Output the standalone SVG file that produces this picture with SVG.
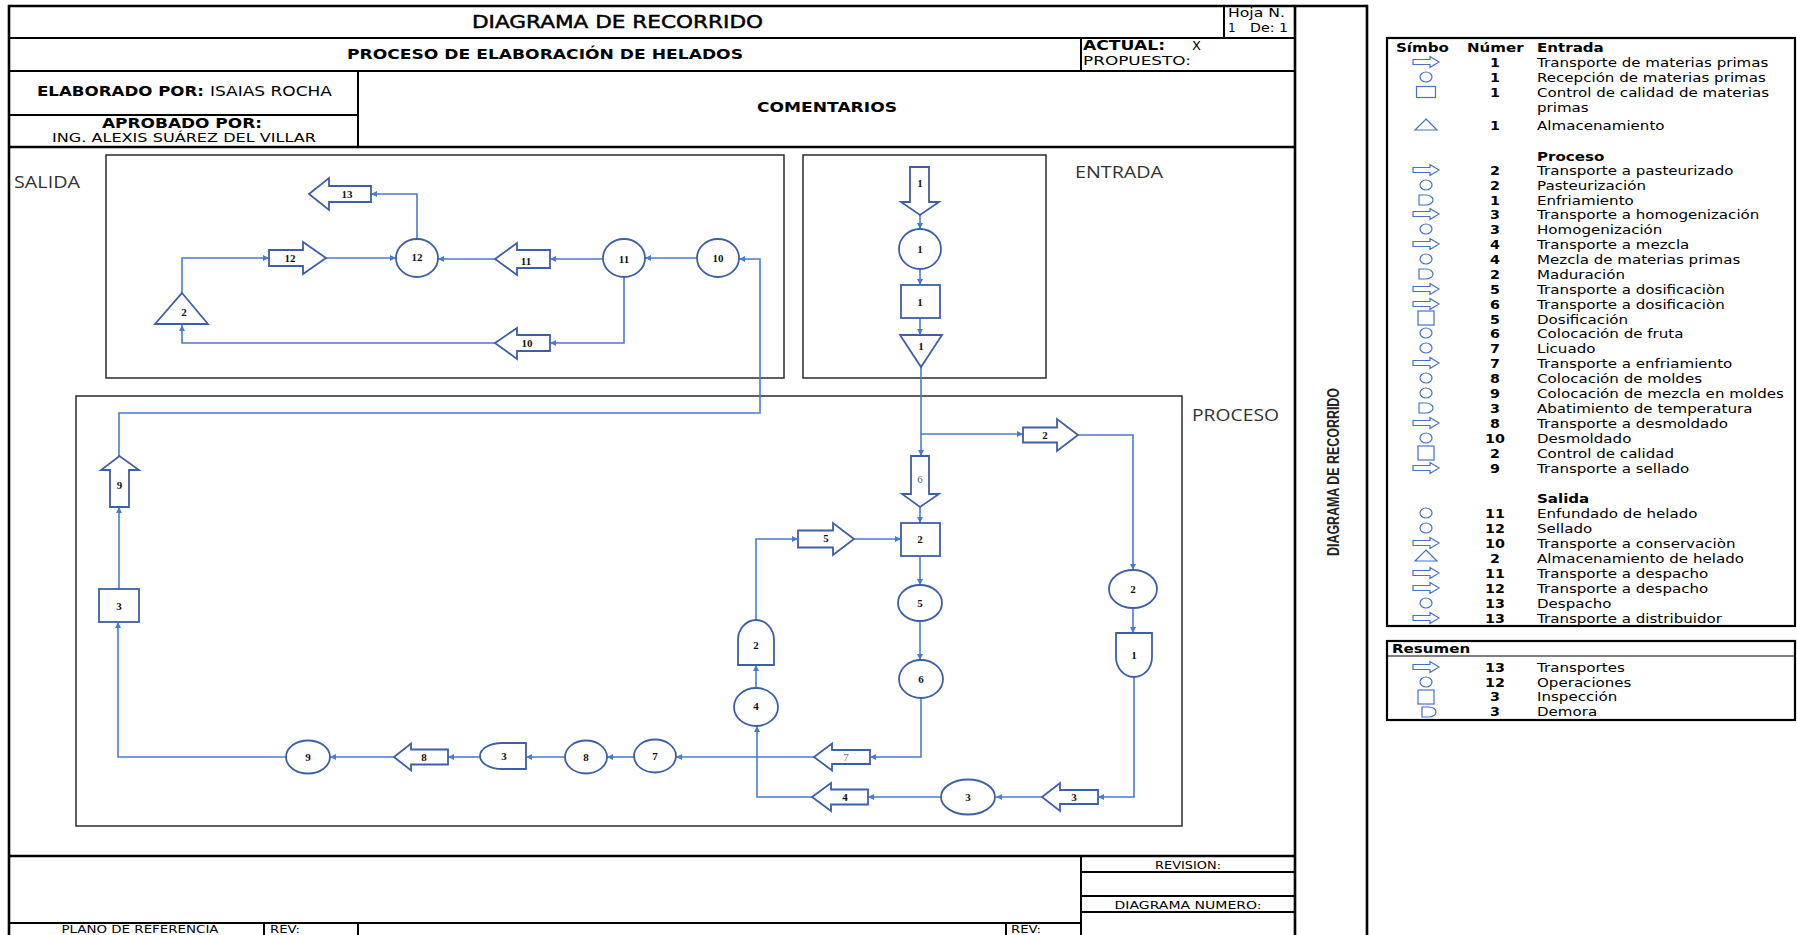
<svg xmlns="http://www.w3.org/2000/svg" xmlns:xlink="http://www.w3.org/1999/xlink" width="1797" height="935" viewBox="0 0 1797 935">
  <style>
    .frame{fill:none;stroke:#000;stroke-width:2.6}
    .cell{stroke:#000;stroke-width:2;fill:none}
    .zone{fill:none;stroke:#2b2b2b;stroke-width:1.5}
    .node{fill:#fff;stroke:#3d5fa3;stroke-width:1.8}
    .lbl{font-family:"Liberation Serif",serif;font-weight:bold;font-size:11px;fill:#111;text-anchor:middle;dominant-baseline:central}
    .lbl.l{font-weight:normal;fill:#666}
    .conn{fill:none;stroke:#4a7bd0;stroke-width:1.6;marker-end:url(#ah)}
    .form{font-family:"DejaVu Sans",sans-serif;fill:#000}
    .b{font-weight:bold}
    .zl{font-family:"Open Sans",sans-serif;font-size:17px;fill:#333}
    .leg{font-family:"DejaVu Sans",sans-serif;font-size:13px;fill:#000}
    .num{font-family:"DejaVu Sans",sans-serif;font-size:13px;font-weight:bold;fill:#000;text-anchor:middle}
    .sym{fill:none;stroke:#4472c4;stroke-width:1.2}
  </style>
  <defs>
    <marker id="ah" viewBox="0 0 10 10" refX="10" refY="5" markerWidth="6" markerHeight="6" markerUnits="userSpaceOnUse" orient="auto">
      <path d="M0,0 L10,5 L0,10 Z" fill="#4a7bd0"/>
    </marker>
    <path id="s-arrow" class="sym" d="M-13,-2.5 H4 V-5.5 L13,0 L4,5.5 V2.5 H-13 Z"/>
    <ellipse id="s-circle" class="sym" rx="6" ry="5"/>
    <rect id="s-square" class="sym" x="-9.5" y="-5.5" width="19" height="11"/>
    <rect id="s-square-t" class="sym" x="-8" y="-7" width="16" height="14"/>
    <path id="s-tri" class="sym" d="M0,-6 L11,5 H-11 Z"/>
    <path id="s-delay" class="sym" d="M-7,-5 H0 A7 5 0 0 1 0,5 H-7 Z"/>
  </defs>

  <rect width="1797" height="935" fill="#fff"/>

  <!-- form frame -->
  <g id="form-frame">
    <path class="frame" d="M9,940 V6 H1367 V940"/>
    <path class="frame" d="M1295,6 V940"/>
    <path class="cell" d="M1224,6 V38 M9,38 H1295 M1081,38 V71 M9,71 H1295 M358,71 V147 M9,115 H358"/>
    <path class="frame" d="M9,147 H1295" stroke-width="3"/>
    <path class="frame" d="M9,856 H1295"/>
    <path class="cell" d="M1081,856 V940 M1081,872 H1295 M1081,896 H1295 M1081,912 H1295 M9,923 H1081 M264,923 V940 M358,923 V940 M1006,923 V940"/>
  </g>

  <!-- header texts -->
  <g id="form-header" class="form">
    <text x="472" y="28" font-size="17" stroke="#000" stroke-width="0.45" textLength="291" lengthAdjust="spacingAndGlyphs">DIAGRAMA DE RECORRIDO</text>
    <text x="1228" y="17" font-size="12" textLength="57" lengthAdjust="spacingAndGlyphs">Hoja N.</text>
    <text x="1228" y="32" font-size="12">1</text>
    <text x="1250" y="32" font-size="12" textLength="38" lengthAdjust="spacingAndGlyphs">De: 1</text>
    <text x="347" y="59" font-size="14" class="b" textLength="396" lengthAdjust="spacingAndGlyphs">PROCESO DE ELABORACIÓN DE HELADOS</text>
    <text x="1083" y="50" font-size="14" class="b" textLength="82" lengthAdjust="spacingAndGlyphs">ACTUAL:</text>
    <text x="1192" y="50" font-size="13">X</text>
    <text x="1083" y="65" font-size="13" textLength="108" lengthAdjust="spacingAndGlyphs">PROPUESTO:</text>
    <text x="37" y="96" font-size="14" class="b" textLength="167" lengthAdjust="spacingAndGlyphs">ELABORADO POR:</text>
    <text x="210" y="96" font-size="14" textLength="122" lengthAdjust="spacingAndGlyphs">ISAIAS ROCHA</text>
    <text x="102" y="128" font-size="14" class="b" textLength="160" lengthAdjust="spacingAndGlyphs">APROBADO POR:</text>
    <text x="52" y="142" font-size="13" textLength="264" lengthAdjust="spacingAndGlyphs">ING. ALEXIS SUÁREZ DEL VILLAR</text>
    <text x="757" y="112" font-size="14" class="b" textLength="140" lengthAdjust="spacingAndGlyphs">COMENTARIOS</text>
  </g>

  <!-- footer texts -->
  <g id="form-footer" class="form" font-size="11">
    <text x="1188" y="869" text-anchor="middle" textLength="66" lengthAdjust="spacingAndGlyphs">REVISION:</text>
    <text x="1188" y="909" text-anchor="middle" textLength="147" lengthAdjust="spacingAndGlyphs">DIAGRAMA NUMERO:</text>
    <text x="140" y="933" font-size="10" text-anchor="middle" textLength="157" lengthAdjust="spacingAndGlyphs">PLANO DE REFERENCIA</text>
    <text x="270" y="933" font-size="10" textLength="30" lengthAdjust="spacingAndGlyphs">REV:</text>
    <text x="1011" y="933" font-size="10" textLength="30" lengthAdjust="spacingAndGlyphs">REV:</text>
  </g>

  <!-- side strip title -->
  <g id="strip-title">
    <text transform="translate(1339,472) rotate(-90)" text-anchor="middle" font-family="'Liberation Sans',sans-serif" font-weight="bold" font-size="17" fill="#222" textLength="168" lengthAdjust="spacingAndGlyphs">DIAGRAMA DE RECORRIDO</text>
  </g>

  <!-- zones -->
  <g id="zones">
    <rect class="zone" x="106" y="155" width="678" height="223"/>
    <rect class="zone" x="803" y="155" width="243" height="223"/>
    <rect class="zone" x="76" y="396" width="1106" height="430"/>
    <text class="zl" x="14" y="188" textLength="66" lengthAdjust="spacingAndGlyphs">SALIDA</text>
    <text class="zl" x="1075" y="178" textLength="88" lengthAdjust="spacingAndGlyphs">ENTRADA</text>
    <text class="zl" x="1192" y="421" textLength="87" lengthAdjust="spacingAndGlyphs">PROCESO</text>
  </g>

  <!-- connectors -->
  <g id="connectors">
    <path class="conn" d="M920,215 V229"/>
    <path class="conn" d="M920,269 V285"/>
    <path class="conn" d="M920,318 V335"/>
    <path class="conn" d="M921,367 V456"/>
    <path class="conn" d="M921,434 H1023"/>
    <path class="conn" d="M920,507 V523"/>
    <path class="conn" d="M920,556 V585"/>
    <path class="conn" d="M920,621 V660"/>
    <path class="conn" d="M921,698 V757 H870"/>
    <path class="conn" d="M814,757 H676"/>
    <path class="conn" d="M634,757 H607"/>
    <path class="conn" d="M565,757 H526"/>
    <path class="conn" d="M480,757 H448"/>
    <path class="conn" d="M394,757 H330"/>
    <path class="conn" d="M286,757 H118 V622"/>
    <path class="conn" d="M119,589 V507"/>
    <path class="conn" d="M119,456 V413 H760 V259 H739"/>
    <path class="conn" d="M1078,435 H1133 V570"/>
    <path class="conn" d="M1133,608 V633"/>
    <path class="conn" d="M1134,677 V797 H1098"/>
    <path class="conn" d="M1042,797 H996"/>
    <path class="conn" d="M941,797 H868"/>
    <path class="conn" d="M812,797 H757 V726"/>
    <path class="conn" d="M756,688 V665"/>
    <path class="conn" d="M756,620 V539 H798"/>
    <path class="conn" d="M854,539 H901"/>
    <path class="conn" d="M697,258 H645"/>
    <path class="conn" d="M603,259 H550"/>
    <path class="conn" d="M495,259 H438"/>
    <path class="conn" d="M624,277 V343 H550"/>
    <path class="conn" d="M495,343 H182 V325"/>
    <path class="conn" d="M182,293 V258 H269"/>
    <path class="conn" d="M326,258 H396"/>
    <path class="conn" d="M417,239 V194 H371"/>
  </g>

  <!-- entrada nodes -->
  <g id="e-transporte-1"><path class="node" d="M910,167 H929 V202 H939 L920,215 L901,202 H910 Z"/><text class="lbl" x="920" y="183">1</text></g>
  <g id="e-recepcion-1"><ellipse class="node" cx="920" cy="249" rx="21" ry="20"/><text class="lbl" x="920" y="249">1</text></g>
  <g id="e-control-1"><rect class="node" x="901" y="285" width="39" height="33"/><text class="lbl" x="920" y="302">1</text></g>
  <g id="e-almacen-1"><path class="node" d="M900,335 H942 L921,367 Z"/><text class="lbl" x="921" y="346">1</text></g>

  <!-- proceso nodes -->
  <g id="p-transporte-2"><path class="node" d="M1023,427.5 H1057 V419 L1078,435 L1057,451 V442.5 H1023 Z"/><text class="lbl" x="1045" y="435">2</text></g>
  <g id="p-pasteurizacion-2"><ellipse class="node" cx="1133" cy="589" rx="24" ry="19"/><text class="lbl" x="1133" y="589">2</text></g>
  <g id="p-enfriamiento-1"><path class="node" d="M1116,633 H1152 V657 A18 20 0 0 1 1116,657 Z"/><text class="lbl" x="1134" y="655">1</text></g>
  <g id="p-transporte-3"><path class="node" d="M1098,790 H1060 V783 L1042,797 L1060,811 V804 H1098 Z"/><text class="lbl" x="1074" y="797">3</text></g>
  <g id="p-homogenizacion-3"><ellipse class="node" cx="968" cy="797" rx="27" ry="17.5"/><text class="lbl" x="968" y="797">3</text></g>
  <g id="p-transporte-4"><path class="node" d="M868,789.5 H831 V783 L812,797 L831,811 V804.5 H868 Z"/><text class="lbl" x="845" y="797">4</text></g>
  <g id="p-mezcla-4"><ellipse class="node" cx="756" cy="707" rx="22" ry="19"/><text class="lbl" x="756" y="706">4</text></g>
  <g id="p-maduracion-2"><path class="node" d="M738,665 V640 A18 20 0 0 1 774,640 V665 Z"/><text class="lbl" x="756" y="645">2</text></g>
  <g id="p-transporte-5"><path class="node" d="M798,530.5 H833 V523 L854,539 L833,555 V547.5 H798 Z"/><text class="lbl" x="826" y="538">5</text></g>
  <g id="p-transporte-6"><path class="node" d="M911,456 H929 V494 H939 L920,507 L902,494 H911 Z"/><text class="lbl l" x="920" y="479">6</text></g>
  <g id="p-dosificacion-5"><rect class="node" x="901" y="523" width="39" height="33"/><text class="lbl" x="920" y="539">2</text></g>
  <g id="p-fruta-6"><ellipse class="node" cx="920" cy="603" rx="22" ry="18"/><text class="lbl" x="920" y="603">5</text></g>
  <g id="p-licuado-7"><ellipse class="node" cx="921" cy="679" rx="22" ry="19"/><text class="lbl" x="921" y="679">6</text></g>
  <g id="p-transporte-7"><path class="node" d="M870,750 H832 V743.5 L814,757 L832,770.5 V764 H870 Z"/><text class="lbl l" x="846" y="757">7</text></g>
  <g id="p-op-7"><ellipse class="node" cx="655" cy="756" rx="21" ry="16.5"/><text class="lbl" x="655" y="756">7</text></g>
  <g id="p-op-8"><ellipse class="node" cx="586" cy="757" rx="21" ry="16.5"/><text class="lbl" x="586" y="757">8</text></g>
  <g id="p-abatimiento-3"><path class="node" d="M526,743 H502 A22 13 0 0 0 502,769 H526 Z"/><text class="lbl" x="504" y="756">3</text></g>
  <g id="p-transporte-8"><path class="node" d="M448,749.5 H411 V743.5 L394,757 L411,770.5 V764.5 H448 Z"/><text class="lbl" x="424" y="757">8</text></g>
  <g id="p-op-9"><ellipse class="node" cx="308" cy="757" rx="22" ry="16.5"/><text class="lbl" x="308" y="757">9</text></g>
  <g id="p-control-3"><rect class="node" x="99" y="589" width="40" height="33"/><text class="lbl" x="119" y="606">3</text></g>
  <g id="p-transporte-9"><path class="node" d="M110,507 V470 H101 L119.5,456 L139,470 H129 V507 Z"/><text class="lbl" x="119.5" y="485">9</text></g>

  <!-- salida nodes -->
  <g id="s-desmoldado-10"><ellipse class="node" cx="718" cy="258" rx="21" ry="19"/><text class="lbl" x="718" y="258">10</text></g>
  <g id="s-enfundado-11"><ellipse class="node" cx="624" cy="258" rx="21" ry="19"/><text class="lbl" x="624" y="259">11</text></g>
  <g id="s-transporte-11"><path class="node" d="M550,250 H517 V243 L495,259 L517,275 V268 H550 Z"/><text class="lbl" x="526" y="261">11</text></g>
  <g id="s-sellado-12"><ellipse class="node" cx="417" cy="258" rx="21" ry="19"/><text class="lbl" x="417" y="257">12</text></g>
  <g id="s-transporte-13"><path class="node" d="M371,186 H329 V178 L309,194 L329,210 V202 H371 Z"/><text class="lbl" x="347" y="194">13</text></g>
  <g id="s-transporte-10"><path class="node" d="M550,335 H517 V328 L495,343 L517,359 V351 H550 Z"/><text class="lbl" x="527" y="343">10</text></g>
  <g id="s-almacen-2"><path class="node" d="M182,293 L208,324 L155,324 Z"/><text class="lbl" x="184" y="312">2</text></g>
  <g id="s-transporte-12"><path class="node" d="M269,250 H303 V242 L326,258 L303,274 V266 H269 Z"/><text class="lbl" x="290" y="258">12</text></g>

  <!-- legend -->
  <g id="legend">
    <rect x="1387" y="38" width="408" height="588" fill="none" stroke="#000" stroke-width="2.2"/>
    <g class="leg b">
      <text transform="translate(1396,52) scale(1.16,1)" font-weight="bold">Símbo</text>
      <text transform="translate(1467,52) scale(1.16,1)" font-weight="bold">Númer</text>
    </g>
    <g transform="translate(1426,0)">
      <use xlink:href="#s-arrow" y="62"/>
      <use xlink:href="#s-circle" y="77"/>
      <use xlink:href="#s-square" y="92"/>
      <use xlink:href="#s-tri" y="125"/>
      <use xlink:href="#s-arrow" y="170"/>
      <use xlink:href="#s-circle" y="185"/>
      <use xlink:href="#s-delay" y="200"/>
      <use xlink:href="#s-arrow" y="214"/>
      <use xlink:href="#s-circle" y="229"/>
      <use xlink:href="#s-arrow" y="244"/>
      <use xlink:href="#s-circle" y="259"/>
      <use xlink:href="#s-delay" y="274"/>
      <use xlink:href="#s-arrow" y="289"/>
      <use xlink:href="#s-arrow" y="304"/>
      <use xlink:href="#s-square-t" y="318"/>
      <use xlink:href="#s-circle" y="333"/>
      <use xlink:href="#s-circle" y="348"/>
      <use xlink:href="#s-arrow" y="363"/>
      <use xlink:href="#s-circle" y="378"/>
      <use xlink:href="#s-circle" y="393"/>
      <use xlink:href="#s-delay" y="408"/>
      <use xlink:href="#s-arrow" y="423"/>
      <use xlink:href="#s-circle" y="438"/>
      <use xlink:href="#s-square-t" y="453"/>
      <use xlink:href="#s-arrow" y="468"/>
      <use xlink:href="#s-circle" y="513"/>
      <use xlink:href="#s-circle" y="528"/>
      <use xlink:href="#s-arrow" y="543"/>
      <use xlink:href="#s-tri" y="556"/>
      <use xlink:href="#s-arrow" y="573"/>
      <use xlink:href="#s-arrow" y="588"/>
      <use xlink:href="#s-circle" y="603"/>
      <use xlink:href="#s-arrow" y="618"/>
    </g>
    <g transform="translate(1495,0) scale(1.1,1)" class="num">
      <text y="67">1</text><text y="82">1</text><text y="97">1</text><text y="130">1</text>
      <text y="175">2</text><text y="190">2</text><text y="205">1</text><text y="219">3</text>
      <text y="234">3</text><text y="249">4</text><text y="264">4</text><text y="279">2</text>
      <text y="294">5</text><text y="309">6</text><text y="324">5</text><text y="338">6</text>
      <text y="353">7</text><text y="368">7</text><text y="383">8</text><text y="398">9</text>
      <text y="413">3</text><text y="428">8</text><text y="443">10</text><text y="458">2</text>
      <text y="473">9</text>
      <text y="518">11</text><text y="533">12</text><text y="548">10</text><text y="563">2</text>
      <text y="578">11</text><text y="593">12</text><text y="608">13</text><text y="623">13</text>
    </g>
    <g transform="translate(1537,0) scale(1.16,1)" class="leg">
      <text y="52" font-weight="bold">Entrada</text>
      <text y="67">Transporte de materias primas</text>
      <text y="82">Recepción de materias primas</text>
      <text y="97">Control de calidad de materias</text>
      <text y="112">primas</text>
      <text y="130">Almacenamiento</text>
      <text y="161" font-weight="bold">Proceso</text>
      <text y="175">Transporte a pasteurizado</text>
      <text y="190">Pasteurización</text>
      <text y="205">Enfriamiento</text>
      <text y="219">Transporte a homogenización</text>
      <text y="234">Homogenización</text>
      <text y="249">Transporte a mezcla</text>
      <text y="264">Mezcla de materias primas</text>
      <text y="279">Maduración</text>
      <text y="294">Transporte a dosificaciòn</text>
      <text y="309">Transporte a dosificaciòn</text>
      <text y="324">Dosificación</text>
      <text y="338">Colocación de fruta</text>
      <text y="353">Licuado</text>
      <text y="368">Transporte a enfriamiento</text>
      <text y="383">Colocación de moldes</text>
      <text y="398">Colocación de mezcla en moldes</text>
      <text y="413">Abatimiento de temperatura</text>
      <text y="428">Transporte a desmoldado</text>
      <text y="443">Desmoldado</text>
      <text y="458">Control de calidad</text>
      <text y="473">Transporte a sellado</text>
      <text y="503" font-weight="bold">Salida</text>
      <text y="518">Enfundado de helado</text>
      <text y="533">Sellado</text>
      <text y="548">Transporte a conservaciòn</text>
      <text y="563">Almacenamiento de helado</text>
      <text y="578">Transporte a despacho</text>
      <text y="593">Transporte a despacho</text>
      <text y="608">Despacho</text>
      <text y="623">Transporte a distribuidor</text>
    </g>
  </g>

  <!-- summary table -->
  <g id="summary">
    <rect x="1387" y="641" width="408" height="79" fill="none" stroke="#000" stroke-width="2.2"/>
    <line x1="1387" y1="656" x2="1795" y2="656" stroke="#000" stroke-width="1.2"/>
    <text transform="translate(1392,653) scale(1.16,1)" class="leg" font-weight="bold">Resumen</text>
    <g transform="translate(1426,0)">
      <use xlink:href="#s-arrow" y="667"/>
      <use xlink:href="#s-circle" y="682"/>
      <use xlink:href="#s-square-t" y="697"/>
      <use xlink:href="#s-delay" x="3" y="712"/>
    </g>
    <g transform="translate(1495,0) scale(1.1,1)" class="num">
      <text y="672">13</text><text y="687">12</text><text y="701">3</text><text y="716">3</text>
    </g>
    <g transform="translate(1537,0) scale(1.16,1)" class="leg">
      <text y="672">Transportes</text>
      <text y="687">Operaciones</text>
      <text y="701">Inspección</text>
      <text y="716">Demora</text>
    </g>
  </g>
</svg>
